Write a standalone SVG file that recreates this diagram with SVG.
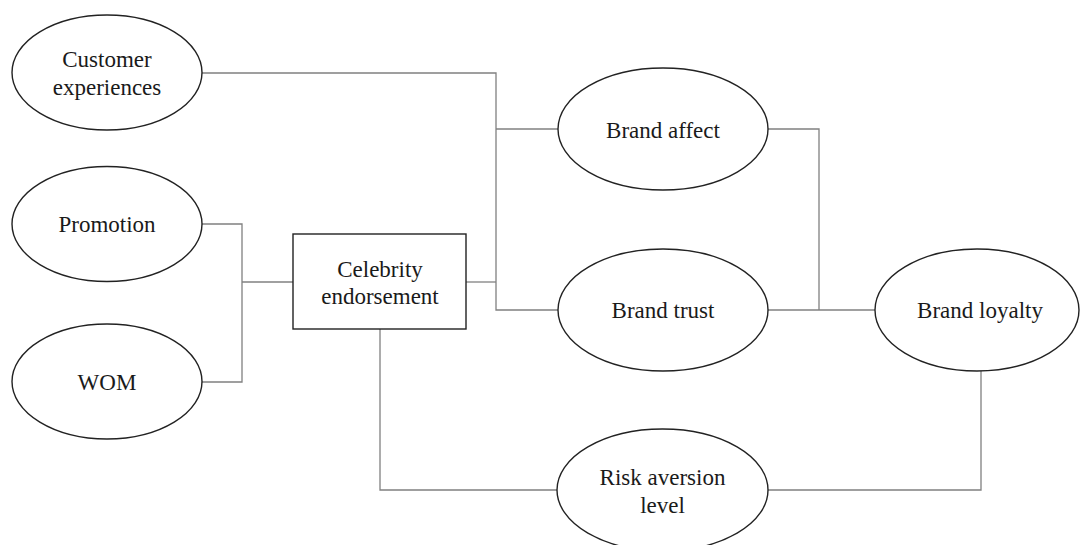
<svg xmlns="http://www.w3.org/2000/svg" width="1080" height="545" viewBox="0 0 1080 545">
<style>
.n{fill:#fff;stroke:#222;stroke-width:1.4}
.t{font-family:"Liberation Serif","Times New Roman",serif;font-size:23px;fill:#1a1a1a;text-anchor:middle}
.c{fill:none;stroke:#808080;stroke-width:1.3}
</style>
<rect width="1080" height="545" fill="#fff"/>
<g id="connectors">
<polyline class="c" points="202,73 496,73 496,310 558,310"/>
<line class="c" x1="496" y1="129" x2="558" y2="129"/>
<line class="c" x1="466" y1="282" x2="496" y2="282"/>
<polyline class="c" points="202,224 242,224 242,382 202,382"/>
<line class="c" x1="242" y1="282" x2="293" y2="282"/>
<polyline class="c" points="768,129 819,129 819,310"/>
<line class="c" x1="768" y1="310" x2="875" y2="310"/>
<polyline class="c" points="380,329 380,490 557,490"/>
<polyline class="c" points="768,490 981,490 981,371"/>
</g>
<g id="customer-experiences">
<ellipse class="n" cx="107" cy="72.5" rx="95" ry="57.5"/>
<text class="t" x="107" y="67">Customer</text>
<text class="t" x="107" y="95">experiences</text>
</g>
<g id="promotion">
<ellipse class="n" cx="107" cy="224" rx="95" ry="57.5"/>
<text class="t" x="107" y="232">Promotion</text>
</g>
<g id="wom">
<ellipse class="n" cx="107" cy="381.5" rx="95" ry="57.5"/>
<text class="t" x="107" y="390">WOM</text>
</g>
<g id="celebrity-endorsement">
<rect class="n" x="293" y="234" width="173" height="95"/>
<text class="t" x="380" y="277">Celebrity</text>
<text class="t" x="380" y="304">endorsement</text>
</g>
<g id="brand-affect">
<ellipse class="n" cx="663" cy="129" rx="105" ry="61"/>
<text class="t" x="663" y="138">Brand affect</text>
</g>
<g id="brand-trust">
<ellipse class="n" cx="663" cy="310" rx="105" ry="61"/>
<text class="t" x="663" y="318">Brand trust</text>
</g>
<g id="brand-loyalty">
<ellipse class="n" cx="977" cy="310" rx="102" ry="61"/>
<text class="t" x="980" y="318">Brand loyalty</text>
</g>
<g id="risk-aversion-level">
<ellipse class="n" cx="662.5" cy="490" rx="105.5" ry="61"/>
<text class="t" x="662.5" y="485">Risk aversion</text>
<text class="t" x="662.5" y="513">level</text>
</g>
</svg>
